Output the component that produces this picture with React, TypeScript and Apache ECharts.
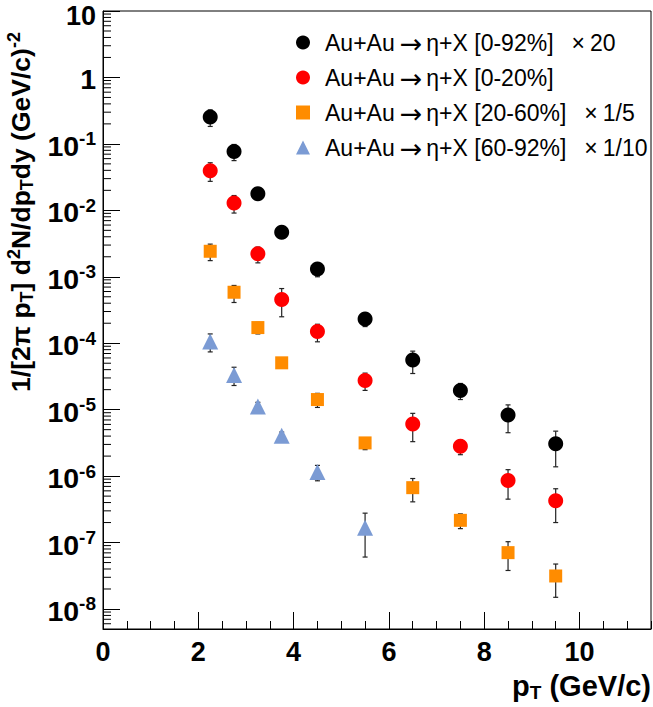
import React, { useEffect, useRef } from 'react';
import * as echarts from 'echarts';

// ---- data ----
const pT = [2.25, 2.75, 3.25, 3.75, 4.5, 5.5, 6.5, 7.5, 8.5, 9.5];
const pTPeripheral = [2.25, 2.75, 3.25, 3.75, 4.5, 5.5];

const seriesNames = [
  'Au+Au → η+X [0-92%] × 20',
  'Au+Au → η+X [0-20%]',
  'Au+Au → η+X [20-60%] × 1/5',
  'Au+Au → η+X [60-92%] × 1/10',
];

// 0-92% (x20)
const mbY = [0.254, 0.077, 0.0177, 0.00467, 0.00131, 2.32e-4, 5.6e-5, 1.95e-5, 8.3e-6, 3.07e-6];
const mbLo = [0.183, 0.056, 0.0147, 0.00397, 0.001, 1.78e-4, 3.5e-5, 1.42e-5, 4.5e-6, 1.38e-6];
const mbHi = [0.325, 0.098, 0.0207, 0.00537, 0.00162, 2.86e-4, 7.6e-5, 2.48e-5, 1.18e-5, 4.75e-6];

// 0-20%
const cY = [0.0395, 0.0129, 0.00223, 4.54e-4, 1.5e-4, 2.75e-5, 6.1e-6, 2.82e-6, 8.6e-7, 4.27e-7];
const cLo = [0.0273, 0.0091, 0.00162, 2.5e-4, 1.05e-4, 1.95e-5, 3.3e-6, 2.1e-6, 4.5e-7, 2.0e-7];
const cHi = [0.052, 0.0167, 0.0028, 6.65e-4, 1.93e-4, 3.55e-5, 8.8e-6, 3.5e-6, 1.25e-6, 6.45e-7];

// 20-60% (x1/5)
const mY = [2.42e-3, 5.85e-4, 1.72e-4, 5.07e-5, 1.42e-5, 3.16e-6, 6.7e-7, 2.16e-7, 7.05e-8, 3.14e-8];
const mLo = [1.75e-3, 4.1e-4, 1.38e-4, 4.3e-5, 1.08e-5, 2.5e-6, 4.1e-7, 1.62e-7, 3.8e-8, 1.5e-8];
const mHi = [3.1e-3, 7.4e-4, 2.06e-4, 5.8e-5, 1.76e-5, 3.8e-6, 9.2e-7, 2.7e-7, 1.03e-7, 4.75e-8];

// 60-92% (x1/10)
const pY = [1.06e-4, 3.33e-5, 1.12e-5, 4.06e-6, 1.15e-6, 1.67e-7];
const pLo = [7.4e-5, 2.31e-5, 0.95e-5, 3.5e-6, 8.5e-7, 6.05e-8];
const pHi = [1.38e-4, 4.35e-5, 1.29e-5, 4.6e-6, 1.45e-6, 2.77e-7];

const colors = ['#000000', '#ff0000', '#ff8c00', '#7b9bd4'];
const symbols = ['circle', 'circle', 'rect', 'triangle'];
const symbolSizes = [15, 15, 13, 16];

const yMin = 5e-9;
const yMax = 10;
const xMin = 0;
const xMax = 11.5;

const FONT = '"Liberation Sans", Arial, Helvetica, sans-serif';

// minor ticks of the log axis: 2..9 x 10^k inside the range
const yMinorTicks: number[] = [];
for (let k = -9; k <= 1; k++) {
  for (let m = 2; m <= 9; m++) {
    const v = m * Math.pow(10, k);
    if (v > yMin && v < yMax) yMinorTicks.push(v);
  }
}

function pts(xs: number[], ys: number[]) {
  return xs.map((x, i) => [x, ys[i]]);
}
function errs(xs: number[], ys: number[], lo: number[], hi: number[]) {
  return xs.map((x, i) => [x, ys[i], lo[i], hi[i]]);
}

// turn "Au+Au → η+X [..] × k" into rich tokens
function legendRich(name: string) {
  const [left, rest] = name.split(' → ');
  const parts = rest.split(' × ');
  let s = '{t|' + left + '}{ar|→}{t|' + parts[0] + '}';
  if (parts.length > 1) s += '{x|×}{t|' + parts[1] + '}';
  return s;
}

export default function App() {
  const ref = useRef<HTMLDivElement>(null);
  useEffect(() => {
    if (!ref.current) return;
    const chart = echarts.init(ref.current, null, { renderer: 'svg' });

    const groups = [
      { x: pT, y: mbY, lo: mbLo, hi: mbHi },
      { x: pT, y: cY, lo: cLo, hi: cHi },
      { x: pT, y: mY, lo: mLo, hi: mHi },
      { x: pTPeripheral, y: pY, lo: pLo, hi: pHi },
    ];

    const errorSeries = groups.map((g, gi) => ({
      type: 'custom',
      name: 'err' + gi,
      xAxisIndex: 0,
      yAxisIndex: 0,
      z: 2,
      silent: true,
      data: errs(g.x, g.y, g.lo, g.hi),
      encode: { x: 0, y: 1 },
      renderItem: (params: any, api: any) => {
        const x = api.value(0);
        const pl = api.coord([x, api.value(2)]);
        const ph = api.coord([x, api.value(3)]);
        const st = { stroke: '#222', lineWidth: 1.2 };
        const c = 2.5;
        return {
          type: 'group',
          children: [
            { type: 'line', shape: { x1: pl[0], y1: pl[1], x2: ph[0], y2: ph[1] }, style: st },
            { type: 'line', shape: { x1: pl[0] - c, y1: pl[1], x2: pl[0] + c, y2: pl[1] }, style: st },
            { type: 'line', shape: { x1: ph[0] - c, y1: ph[1], x2: ph[0] + c, y2: ph[1] }, style: st },
          ],
        };
      },
    }));

    const scatterSeries = groups.map((g, gi) => ({
      type: 'scatter',
      name: seriesNames[gi],
      xAxisIndex: 0,
      yAxisIndex: 0,
      z: 3,
      symbol: symbols[gi],
      symbolSize: symbolSizes[gi],
      itemStyle: { color: colors[gi], opacity: 1 },
      data: pts(g.x, g.y),
    }));

    const minorTickSeries = {
      type: 'custom',
      name: 'yminor',
      xAxisIndex: 0,
      yAxisIndex: 0,
      z: 1,
      silent: true,
      data: yMinorTicks.map((v) => [xMin, v]),
      encode: { x: 0, y: 1 },
      renderItem: (params: any, api: any) => {
        const p = api.coord([api.value(0), api.value(1)]);
        return {
          type: 'line',
          shape: { x1: p[0], y1: p[1], x2: p[0] + 8, y2: p[1] },
          style: { stroke: '#000', lineWidth: 1 },
        };
      },
    };

    const yTitle =
      '{a|1/[2π p}{sub|T}{a|] d}{sup|2}{a|N/dp}{sub|T}{a|dy (GeV/c)}{sup|-2}';
    const yTitleRich = {
      a: { fontSize: 26.5, fontWeight: 'bold', fontFamily: FONT, fill: '#000' },
      sub: { fontSize: 18, fontWeight: 'bold', fontFamily: FONT, fill: '#000', padding: [12, 0, 0, 0] },
      sup: { fontSize: 18, fontWeight: 'bold', fontFamily: FONT, fill: '#000', padding: [0, 0, 15, 0] },
    };
    const xTitleRich = {
      a: { fontSize: 29, fontWeight: 'bold', fontFamily: FONT, fill: '#000' },
      sub: { fontSize: 19, fontWeight: 'bold', fontFamily: FONT, fill: '#000', padding: [13, 0, 0, 0] },
    };

    chart.setOption({
      animation: false,
      backgroundColor: '#fff',
      grid: {
        left: 103,
        right: 2,
        top: 11,
        bottom: 78,
        containLabel: false,
        outerBoundsMode: 'none',
        show: true,
        borderColor: '#000',
        borderWidth: 1,
        backgroundColor: 'transparent',
      },
      legend: {
        orient: 'vertical',
        left: 296,
        top: 29,
        padding: 0,
        itemWidth: 14,
        itemHeight: 14,
        itemGap: 8,
        data: seriesNames,
        selectedMode: false,
        formatter: (name: string) => legendRich(name),
        textStyle: {
          fontFamily: FONT,
          fontSize: 23,
          color: '#000',
          padding: [0, 0, 0, 10],
          rich: {
            t: { fontFamily: FONT, fontSize: 23, lineHeight: 24, color: '#000' },
            ar: { fontFamily: '"Noto Sans", "DejaVu Sans"', fontSize: 27, lineHeight: 24, color: '#000', padding: [0, 4, 0, 5] },
            x: { fontFamily: FONT, fontSize: 23, lineHeight: 24, color: '#000', padding: [0, 5, 0, 18] },
          },
        },
      },
      xAxis: [
        {
          type: 'value',
          min: xMin,
          max: xMax,
          interval: 2,
          position: 'bottom',
          axisLine: { show: true, lineStyle: { color: '#000', width: 1 } },
          axisTick: { show: true, inside: true, length: 17, lineStyle: { color: '#000' } },
          splitLine: { show: false },
          axisLabel: {
            show: true,
            margin: 9,
            showMaxLabel: false,
            fontFamily: FONT,
            fontSize: 27,
            fontWeight: 'bold',
            color: '#000',
          },
        },
        {
          type: 'value',
          min: xMin,
          max: xMax,
          interval: 0.5,
          position: 'bottom',
          axisLine: { show: false },
          axisTick: { show: true, inside: true, length: 8, lineStyle: { color: '#000' } },
          splitLine: { show: false },
          axisLabel: { show: false },
        },
      ],
      yAxis: [
        {
          type: 'log',
          logBase: 10,
          min: yMin,
          max: yMax,
          splitNumber: 10,
          axisLine: { show: true, lineStyle: { color: '#000', width: 1 } },
          axisTick: { show: true, inside: true, length: 17, lineStyle: { color: '#000' } },
          splitLine: { show: false },
          axisLabel: {
            show: true,
            margin: 7,
            showMinLabel: false,
            formatter: (v: number) => {
              const e = Math.round(Math.log10(v));
              if (Math.abs(Math.log10(v) - e) > 1e-6) return '';
              if (e === 0) return '{b|1}';
              if (e === 1) return '{bt|10}';
              return '{b|10}{s|' + e + '}';
            },
            rich: {
              b: {
                fontFamily: FONT,
                fontSize: 28.5,
                fontWeight: 'bold',
                color: '#000',
                lineHeight: 18,
                padding: [4, 0, 0, 0],
              },
              bt: {
                fontFamily: FONT,
                fontSize: 27,
                fontWeight: 'bold',
                color: '#000',
                lineHeight: 18,
                padding: [9, 0, 0, 0],
              },
              s: {
                fontFamily: FONT,
                fontSize: 19,
                fontWeight: 'bold',
                color: '#000',
                lineHeight: 18,
                padding: [0, 0, 10, 0],
              },
            },
          },
        },
      ],
      graphic: [
        {
          type: 'text',
          x: 21,
          y: 212,
          rotation: Math.PI / 2,
          style: {
            text: yTitle,
            rich: yTitleRich,
            align: 'center',
            verticalAlign: 'middle',
            fontFamily: FONT,
            fontSize: 26.5,
            fontWeight: 'bold',
          },
        },
        {
          type: 'text',
          x: 651,
          y: 686,
          style: {
            text: '{a|p}{sub|T}{a| (GeV/c)}',
            rich: xTitleRich,
            align: 'right',
            verticalAlign: 'middle',
            fontFamily: FONT,
            fontSize: 29,
            fontWeight: 'bold',
          },
        },
      ],
      series: [minorTickSeries, ...errorSeries, ...scatterSeries],
    });

    return () => {
      chart.dispose();
    };
  }, []);

  return (
    <div
      ref={ref}
      style={{ position: 'absolute', left: 0, top: 0, width: 653, height: 707 }}
    />
  );
}
